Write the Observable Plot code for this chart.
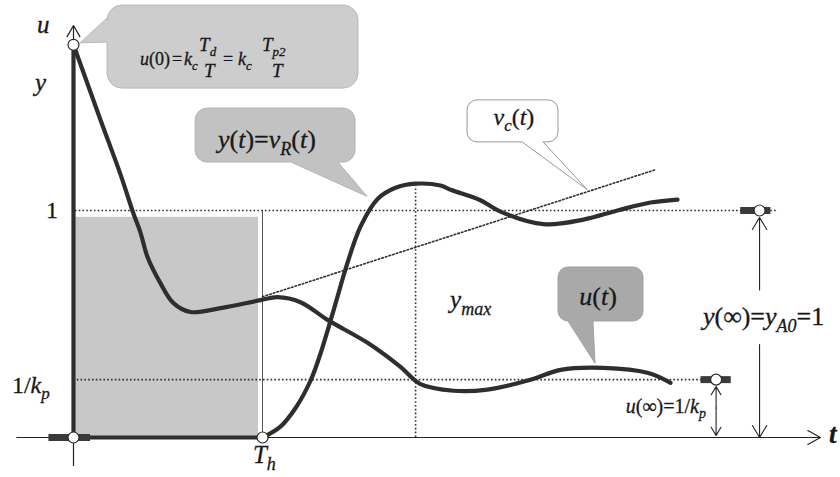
<!DOCTYPE html>
<html>
<head>
<meta charset="utf-8">
<script src="https://cdn.jsdelivr.net/npm/d3@7"></script>
<script src="https://cdn.jsdelivr.net/npm/@observablehq/plot@0.6"></script>
<style>
  html, body { margin: 0; padding: 0; background: #fff; }
  svg text, svg tspan { font-family: "Liberation Serif", "DejaVu Serif", serif !important; }
</style>
</head>
<body>
<div id="chart"></div>
<script>
// Time is measured in units of the dead time T_h, outputs in units of the set point.
const Th = 1;
const kpInv = 0.255;   // 1/k_p, steady-state controller output
const u0 = 1.73;       // u(0) = k_c·T_d/T

// Controlled output y(t) = v_R(t)
const yTime  = [1, 1.095, 1.175, 1.254, 1.307, 1.376, 1.45, 1.519, 1.608, 1.704, 1.81, 1.942, 2.0, 2.153, 2.259, 2.487, 2.698, 2.878, 3.053, 3.196];
const yValue = [0, 0.048, 0.13, 0.25, 0.37, 0.56, 0.77, 0.93, 1.05, 1.10, 1.118, 1.11, 1.09, 1.045, 0.995, 0.94, 0.96, 1.0, 1.035, 1.048];

// Controller output u(t)
const uTime  = [0, 0.143, 0.249, 0.317, 0.354, 0.392, 0.46, 0.529, 0.619, 0.778, 0.989, 1.079, 1.201, 1.344, 1.556, 1.73, 1.836, 2.011, 2.19, 2.418, 2.577, 2.804, 3.037, 3.159];
const uValue = [u0, 1.399, 1.158, 0.987, 0.904, 0.794, 0.68, 0.592, 0.553, 0.57, 0.605, 0.618, 0.596, 0.518, 0.417, 0.311, 0.235, 0.206, 0.211, 0.254, 0.298, 0.307, 0.285, 0.241];

// Straight trend v_c(t) starting at T_h
const vcTime  = [1, 3.08];
const vcValue = [0.62, 1.18];

// Overshoot maximum
const tMax = 1.81;
const yMaxValue = 1.118;

const yCurve  = yTime.map((t, i) => ({t, v: yValue[i]}));
const uCurve  = uTime.map((t, i) => ({t, v: uValue[i]}));
const vcTrend = vcTime.map((t, i) => ({t, v: vcValue[i]}));

const SERIF = '"Liberation Serif", "DejaVu Serif", serif';
const INK = "#2e2e2e";
const DOTS = {stroke: INK, strokeWidth: 1.6, strokeDasharray: "1.6,2.2"};

// Speech-bubble callouts (rounded box plus pointer), in data coordinates
const bubbles = [
  {x0: 0.18,  x1: 1.508, y0: 1.537, y1: 1.903, r: 15, side: "left",   base: [1.74, 1.846],  tip: [0.037, 1.736], fill: "#cdcdcd", stroke: "#b4b4b4"},
  {x0: 0.646, x1: 1.492, y0: 1.211, y1: 1.449, r: 12, side: "bottom", base: [1.153, 1.402], tip: [1.556, 1.06],  fill: "#c2c2c2", stroke: "#b0b0b0"},
  {x0: 2.085, x1: 2.566, y0: 1.300, y1: 1.485, r: 10, side: "bottom", base: [2.376, 2.487], tip: [2.72, 1.09],   fill: "#ffffff", stroke: "#8c8c8c"},
  {x0: 2.566, x1: 3.016, y0: 0.511, y1: 0.749, r: 10, side: "bottom", base: [2.619, 2.751], tip: [2.762, 0.325], fill: "#a9a9a9", stroke: "#9c9c9c"}
];

function bubbleMark(list) {
  return (index, {x, y}) => {
    const g = d3.create("svg:g");
    for (const b of list) {
      const X0 = x(b.x0), X1 = x(b.x1), YT = y(b.y1), YB = y(b.y0), r = b.r;
      let p = `M${X0 + r},${YT} L${X1 - r},${YT} A${r},${r} 0 0 1 ${X1},${YT + r} L${X1},${YB - r} A${r},${r} 0 0 1 ${X1 - r},${YB}`;
      if (b.side === "bottom") {
        p += ` L${x(b.base[1])},${YB} L${x(b.tip[0])},${y(b.tip[1])} L${x(b.base[0])},${YB}`;
      }
      p += ` L${X0 + r},${YB} A${r},${r} 0 0 1 ${X0},${YB - r}`;
      if (b.side === "left") {
        p += ` L${X0},${y(b.base[0])} L${x(b.tip[0])},${y(b.tip[1])} L${X0},${y(b.base[1])}`;
      }
      p += ` L${X0},${YT + r} A${r},${r} 0 0 1 ${X0 + r},${YT} Z`;
      g.append("path").attr("d", p).attr("fill", b.fill).attr("stroke", b.stroke).attr("stroke-width", 0.9);
    }
    return g.node();
  };
}

// Rich labels: parts are [text, kind], kind i = italic, r = roman, s = italic subscript
const labels = [
  {x: -0.190, y: 1.780, size: 25, parts: [["u", "i"]]},
  {x: -0.201, y: 1.524, size: 25, parts: [["y", "i"]]},
  {x: -0.079, y: 0.965, size: 24, anchor: "end", parts: [["1", "r"]]},
  {x: -0.323, y: 0.194, size: 24, parts: [["1/", "r"], ["k", "i"], ["p", "s"]]},
  {x: 0.952,  y: -0.115, size: 25, parts: [["T", "i"], ["h", "s"]]},
  {x: 4.0,    y: -0.026, size: 27, weight: "bold", parts: [["t", "i"]]},
  {x: 1.995,  y: 0.568, size: 25, parts: [["y", "i"], ["max", "s"]]},
  {x: 3.333,  y: 0.493, size: 26, parts: [["y", "i"], ["(∞)=", "r"], ["y", "i"], ["A0", "s"], ["=1", "r"]]},
  {x: 3.349,  y: 0.106, size: 20, anchor: "end", parts: [["u", "i"], ["(∞)=1/", "r"], ["k", "i"], ["p", "s"]]},
  {x: 1.026,  y: 1.273, size: 26, anchor: "middle", parts: [["y", "i"], ["(", "r"], ["t", "i"], [")=", "r"], ["v", "i"], ["R", "s"], ["(", "r"], ["t", "i"], [")", "r"]]},
  {x: 2.333,  y: 1.374, size: 24, anchor: "middle", parts: [["v", "i"], ["c", "s"], ["(", "r"], ["t", "i"], [")", "r"]]},
  {x: 2.778,  y: 0.581, size: 26, anchor: "middle", parts: [["u", "i"], ["(", "r"], ["t", "i"], [")", "r"]]},
  // u(0) = k_c T_d / T = k_c T_p2 / T
  {x: 0.354, y: 1.639, size: 18, parts: [["u", "i"], ["(0)", "r"]]},
  {x: 0.524, y: 1.639, size: 18, parts: [["=", "r"]]},
  {x: 0.587, y: 1.639, size: 18, parts: [["k", "i"], ["c", "s"]]},
  {x: 0.667, y: 1.700, size: 19, parts: [["T", "i"], ["d", "s"]]},
  {x: 0.693, y: 1.587, size: 19, parts: [["T", "i"]]},
  {x: 0.794, y: 1.639, size: 18, parts: [["=", "r"]]},
  {x: 0.873, y: 1.639, size: 18, parts: [["k", "i"], ["c", "s"]]},
  {x: 1.000, y: 1.700, size: 19, parts: [["T", "i"], ["p2", "s"]]},
  {x: 1.053, y: 1.587, size: 19, parts: [["T", "i"]]}
];

function richText(list) {
  return (index, {x, y}) => {
    const g = d3.create("svg:g").style("font-family", SERIF)
      .attr("fill", "#181818").attr("stroke", "#181818").attr("stroke-width", 0.3);
    for (const L of list) {
      const t = g.append("text")
        .attr("x", x(L.x)).attr("y", y(L.y))
        .style("font-family", SERIF)
        .style("font-size", `${L.size}px`)
        .style("font-weight", L.weight || "normal")
        .attr("text-anchor", L.anchor || "start");
      let shift = 0;
      for (const [s, k] of L.parts) {
        const sub = k.startsWith("s");
        const target = sub ? Math.round(L.size * 0.27) : 0;
        const ts = t.append("tspan").text(s)
          .style("font-family", SERIF)
          .style("font-style", k.endsWith("r") ? "normal" : "italic")
          .style("font-size", `${sub ? Math.round(L.size * 0.7) : L.size}px`);
        if (target !== shift) { ts.attr("dy", target - shift); shift = target; }
      }
    }
    return g.node();
  };
}

const markerBars = [
  {t1: -0.13, t2: 0.09, v: 0},
  {t1: 3.53,  t2: 3.69, v: 1},
  {t1: 3.32,  t2: 3.48, v: kpInv}
];
const markerDots = [
  {t: 0, v: 0}, {t: Th, v: 0}, {t: 0, v: u0}, {t: 3.63, v: 1}, {t: 3.40, v: kpInv}
];

const chart = Plot.plot({
  width: 840,
  height: 477,
  margin: 0,
  x: {axis: null, domain: [0, 1], range: [73, 262]},
  y: {axis: null, domain: [0, 1], range: [437, 210]},
  style: {background: "#ffffff", fontFamily: SERIF, overflow: "visible"},
  marks: [
    // region up to the dead time
    Plot.rect([{x1: 0.012, x2: 0.979, y1: 0, y2: 0.97}], {x1: "x1", x2: "x2", y1: "y1", y2: "y2", fill: "#c8c8c8"}),
    Plot.ruleX([Th], {y1: 0, y2: 1, stroke: "#555", strokeWidth: 1}),

    // reference levels and helper lines
    Plot.ruleY([1], {x1: 0.01, x2: 3.73, ...DOTS}),
    Plot.ruleY([kpInv], {x1: 0.02, x2: 3.48, ...DOTS}),
    Plot.ruleX([tMax], {y1: 0, y2: yMaxValue - 0.01, ...DOTS}),
    Plot.line(vcTrend, {x: "t", y: "v", ...DOTS}),

    // axes with open arrowheads
    Plot.arrow([{}], {x1: -0.30, y1: 0, x2: 3.952, y2: 0, stroke: "#222", strokeWidth: 1.2, headLength: 18, headAngle: 58}),
    Plot.arrow([{}], {x1: 0, y1: -0.123, x2: 0, y2: 1.815, stroke: "#222", strokeWidth: 1.2, headLength: 16, headAngle: 60}),

    // curves
    Plot.ruleY([0], {x1: -0.1, x2: Th, stroke: INK, strokeWidth: 4.2}),
    Plot.ruleX([0], {y1: 0, y2: u0, stroke: INK, strokeWidth: 4.2}),
    Plot.line(uCurve, {x: "t", y: "v", stroke: INK, strokeWidth: 4.2, curve: "catmull-rom"}),
    Plot.line(yCurve, {x: "t", y: "v", stroke: INK, strokeWidth: 4.2, curve: "catmull-rom"}),

    // steady-state arrows
    Plot.arrow([{}], {x1: 3.63, y1: 0.65, x2: 3.63, y2: 1, insetEnd: 7, stroke: "#222", strokeWidth: 1.1, headLength: 19, headAngle: 62}),
    Plot.arrow([{}], {x1: 3.63, y1: 0.41, x2: 3.63, y2: 0, stroke: "#222", strokeWidth: 1.1, headLength: 19, headAngle: 62}),
    Plot.arrow([{}], {x1: 3.40, y1: 0.13, x2: 3.40, y2: kpInv, insetEnd: 7, stroke: "#222", strokeWidth: 1.1, headLength: 13, headAngle: 62}),
    Plot.arrow([{}], {x1: 3.40, y1: 0.13, x2: 3.40, y2: 0, insetEnd: 2, stroke: "#222", strokeWidth: 1.1, headLength: 13, headAngle: 62}),

    // end markers
    Plot.ruleY(markerBars, {x1: "t1", x2: "t2", y: "v", stroke: "#3a3a3a", strokeWidth: 7}),
    Plot.dot(markerDots, {x: "t", y: "v", r: 5.5, fill: "#fff", stroke: "#2a2a2a", strokeWidth: 1.2}),

    // callouts and text
    bubbleMark(bubbles),
    richText(labels)
  ]
});

document.getElementById("chart").append(chart);
</script>
</body>
</html>
